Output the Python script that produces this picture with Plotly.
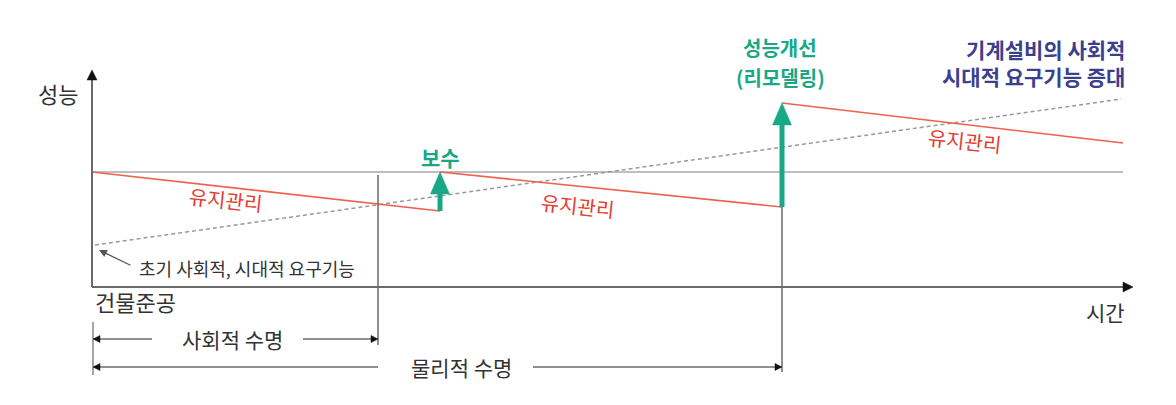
import plotly.graph_objects as go

# x = time (px to the right of the origin), y = performance (px above the time axis)
t_built = 0
t_social_life = 286
t_repair = 348
t_remodel = 690
t_end = 1031

p_initial = 115
maint_t0 = [t_built, t_repair, t_remodel]
maint_t1 = [t_repair, t_remodel, t_end]
maint_p0 = [115, 115, 184]
maint_p1 = [76, 80, 144]

demand_t = [3, 1029]
demand_p = [42, 188]

RED = "#f0604f"
RED_TXT = "#e63b30"
GREEN = "#18a886"
NAVY = "#3c3f8e"
GRAY = "#aaaaaa"
DARK = "#333333"
AXIS = "#6a6a6a"
FONT = "Noto Sans CJK KR"

fig = go.Figure()


def line(xs, ys, color, width=1.5, dash=None):
    fig.add_trace(go.Scatter(x=xs, y=ys, mode="lines", hoverinfo="skip",
                             line=dict(color=color, width=width, dash=dash)))


def tri(tip_x, tip_y, direction, length, half, color):
    # filled triangle pointing up / right / left from its tip
    if direction == "up":
        xs = [tip_x, tip_x - half, tip_x + half, tip_x]
        ys = [tip_y, tip_y - length, tip_y - length, tip_y]
    elif direction == "right":
        xs = [tip_x, tip_x - length, tip_x - length, tip_x]
        ys = [tip_y, tip_y + half, tip_y - half, tip_y]
    else:
        xs = [tip_x, tip_x + length, tip_x + length, tip_x]
        ys = [tip_y, tip_y + half, tip_y - half, tip_y]
    fig.add_trace(go.Scatter(x=xs, y=ys, mode="lines", fill="toself",
                             fillcolor=color, line=dict(color=color, width=0.5),
                             hoverinfo="skip"))


# initial performance level
line([t_built, t_end], [p_initial, p_initial], GRAY, 1.5)

# social / era demand (dashed)
line(demand_t, demand_p, "#999999", 1.5, "4px,3px")

# maintenance decay segments
xs, ys = [], []
for a, b, c, d in zip(maint_t0, maint_t1, maint_p0, maint_p1):
    xs += [a, b, None]
    ys += [c, d, None]
line(xs, ys, RED, 1.6)

# life markers
line([t_social_life, t_social_life], [112, -58], AXIS, 1.5)
line([t_remodel, t_remodel], [maint_p1[1], -85], AXIS, 1.5)
line([t_built + 1, t_built + 1], [-35, -88], AXIS, 1.2)

# axes
line([t_built, t_built], [0, 210], AXIS, 2)
tri(t_built, 217, "up", 10, 5, "#111111")
line([t_built, 1034], [0, 0], AXIS, 2)
tri(1041, 0, "right", 10, 5, "#111111")

# improvement arrows (보수, 리모델링)
head = 22
for t, lo, hi in [(t_repair, maint_p1[0], maint_p0[1]),
                  (t_remodel, maint_p1[1], maint_p0[2])]:
    line([t, t], [lo, hi - head + 1], GREEN, 5)
    tri(t, hi, "up", head, 9.5, GREEN)

# lifespan dimension arrows
y_soc, y_phy = -52, -80
line([t_built + 2, 60], [y_soc, y_soc], "#222222", 1.2)
line([211, t_social_life - 2], [y_soc, y_soc], "#222222", 1.2)
tri(t_built + 1, y_soc, "left", 7, 3.5, "#111111")
tri(t_social_life, y_soc, "right", 7, 3.5, "#111111")
line([t_built + 2, 286], [y_phy, y_phy], "#222222", 1.2)
line([441, t_remodel - 2], [y_phy, y_phy], "#222222", 1.2)
tri(t_built + 1, y_phy, "left", 7, 3.5, "#111111")
tri(t_remodel, y_phy, "right", 7, 3.5, "#111111")


def text(x, y, s, size, color, bold=False, angle=0, xanchor="center", align="center"):
    fig.add_annotation(x=x, y=y, text=f"<b>{s}</b>" if bold else s,
                       showarrow=False, textangle=angle, xanchor=xanchor,
                       yanchor="middle", align=align,
                       font=dict(family=FONT, size=size, color=color))


text(-34, 194, "성능", 22, DARK)
text(1013, -25, "시간", 21, DARK)
text(43, -14, "건물준공", 22, DARK)
text(140, -52, "사회적 수명", 21, DARK)
text(369, -80, "물리적 수명", 21, DARK)
text(155, 19, "초기 사회적, 시대적 요구기능", 18, DARK)

text(134, 88, "유지관리", 20, RED_TXT, angle=6)
text(486, 82, "유지관리", 20, RED_TXT, angle=6)
text(873, 147, "유지관리", 20, RED_TXT, angle=6)

text(t_repair, 130, "보수", 21, GREEN, bold=True)
text(t_remodel - 2, 240, "성능개선", 20, GREEN, bold=True)
text(t_remodel - 2, 210, "(리모델링)", 20, GREEN, bold=True)

text(1035, 225, "기계설비의 사회적<br>시대적 요구기능 증대", 21, NAVY,
     bold=True, xanchor="right", align="right")

# pointer to the initial demand level
fig.add_annotation(x=7, y=37, ax=40, ay=21, axref="x", ayref="y",
                   xref="x", yref="y", text="", showarrow=True,
                   arrowhead=2, arrowsize=1.2, arrowwidth=1.3,
                   arrowcolor="#555555")

# the page adds an 8px body margin, so the ranges are shifted to compensate
fig.update_layout(
    width=1176, height=405, autosize=False,
    margin=dict(l=0, r=0, t=0, b=0),
    paper_bgcolor="white", plot_bgcolor="white",
    showlegend=False,
    xaxis=dict(range=[-84, 1092], visible=False, fixedrange=True),
    yaxis=dict(range=[-126, 279], visible=False, fixedrange=True),
)

fig.write_html("out.html")
